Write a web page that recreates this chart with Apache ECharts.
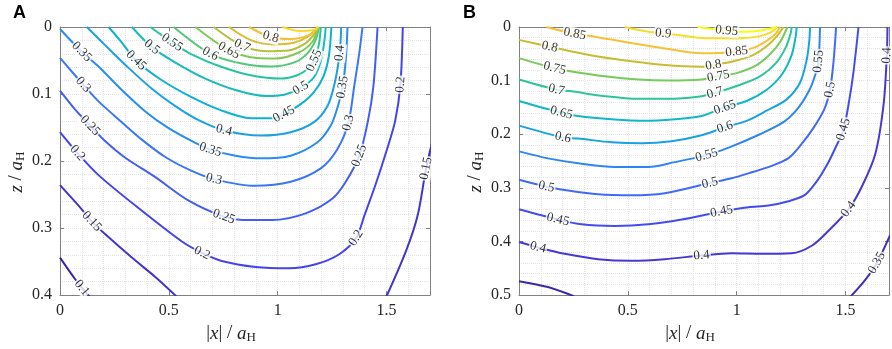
<!DOCTYPE html>
<html>
<head>
<meta charset="utf-8">
<script src="https://cdn.jsdelivr.net/npm/echarts@6/dist/echarts.min.js"></script>
<style>
  html, body { margin: 0; padding: 0; background: #fff; }
  #chart { width: 892px; height: 349px; }
</style>
</head>
<body>
<div id="chart"></div>
<script>
// axis ranges / ticks
const xMax = 1.7;
const zMaxA = 0.4;
const zMaxB = 0.5;
const xStep = 0.5;
const zStep = 0.1;

// ---- panel A contour paths, points are [|x|/aH, z/aH] ----
const A010 = [[0, 0.344], [0.069, 0.376], [0.10, 0.389], [0.135, 0.402]];
const A015L = [[0, 0.236], [0.1, 0.272], [0.146, 0.29], [0.207, 0.309], [0.33, 0.344], [0.438, 0.373], [0.535, 0.402]];
const A015R = [[1.71, 0.172], [1.682, 0.211], [1.644, 0.28], [1.59, 0.334], [1.50, 0.402]];
const A020 = [[0, 0.157], [0.08, 0.188], [0.177, 0.221], [0.36, 0.27], [0.56, 0.32], [0.653, 0.337], [0.743, 0.349], [0.899, 0.358],
  [1.052, 0.36], [1.175, 0.354], [1.283, 0.339], [1.36, 0.315], [1.40, 0.28], [1.45, 0.235], [1.50, 0.185], [1.54, 0.14], [1.564, 0.086], [1.575, 0]];
const A025 = [[0, 0.095], [0.069, 0.123], [0.138, 0.147], [0.207, 0.17], [0.30, 0.195], [0.438, 0.224], [0.591, 0.259], [0.753, 0.283],
  [0.837, 0.288], [0.975, 0.288], [1.129, 0.278], [1.252, 0.256], [1.313, 0.231], [1.375, 0.192], [1.415, 0.14], [1.44, 0.088], [1.459, 0]];
const A030 = [[0, 0.046], [0.061, 0.069], [0.107, 0.086], [0.177, 0.111], [0.284, 0.142], [0.376, 0.168], [0.484, 0.194], [0.60, 0.214],
  [0.707, 0.227], [0.891, 0.237], [1.06, 0.231], [1.198, 0.211], [1.275, 0.182], [1.325, 0.143], [1.352, 0.088], [1.375, 0.039], [1.39, 0]];
const A035 = [[0, 0.003], [0.1, 0.037], [0.177, 0.059], [0.284, 0.094], [0.392, 0.126], [0.499, 0.151], [0.622, 0.173], [0.691, 0.183],
  [0.806, 0.192], [0.922, 0.196], [1.06, 0.192], [1.183, 0.172], [1.244, 0.147], [1.275, 0.12], [1.298, 0.09], [1.313, 0.049], [1.321, 0]];
const A040 = [[0.123, 0], [0.207, 0.027], [0.315, 0.061], [0.422, 0.092], [0.53, 0.118], [0.637, 0.139], [0.753, 0.154], [0.922, 0.162],
  [1.06, 0.157], [1.167, 0.142], [1.229, 0.118], [1.262, 0.084], [1.285, 0.039], [1.292, 0]];
const A045 = [[0.223, 0], [0.276, 0.02], [0.35, 0.05], [0.461, 0.078], [0.6, 0.104], [0.737, 0.124], [0.876, 0.136], [0.983, 0.136],
  [1.029, 0.13], [1.106, 0.115], [1.167, 0.097], [1.21, 0.074], [1.235, 0.044], [1.247, 0]];
const A050 = [[0.33, 0], [0.422, 0.03], [0.53, 0.053], [0.668, 0.077], [0.806, 0.094], [0.945, 0.103], [1.03, 0.101], [1.106, 0.091],
  [1.167, 0.075], [1.2, 0.049], [1.215, 0.02], [1.221, 0]];
const A055 = [[0.415, 0], [0.515, 0.023], [0.6, 0.04], [0.737, 0.059], [0.876, 0.072], [1.014, 0.077], [1.09, 0.072], [1.14, 0.062],
  [1.168, 0.05], [1.19, 0.025], [1.198, 0]];
const A060 = [[0.522, 0], [0.691, 0.04], [0.83, 0.054], [0.968, 0.059], [1.083, 0.052], [1.143, 0.037], [1.175, 0.019], [1.19, 0]];
const A065 = [[0.622, 0], [0.776, 0.035], [0.876, 0.045], [0.99, 0.047], [1.097, 0.038], [1.16, 0.022], [1.186, 0]];
const A070 = [[0.706, 0], [0.837, 0.028], [0.95, 0.036], [1.05, 0.035], [1.12, 0.026], [1.165, 0.012], [1.185, 0]];
const A075 = [[0.776, 0], [0.88, 0.02], [0.98, 0.026], [1.07, 0.024], [1.14, 0.014], [1.185, 0]];
const A080 = [[0.868, 0], [0.968, 0.015], [1.06, 0.018], [1.152, 0.011], [1.185, 0]];
const A090 = [[1.022, 0], [1.1, 0.006], [1.17, 0.004], [1.186, 0]];

const levelsA = [0.1, 0.15, 0.15, 0.2, 0.25, 0.3, 0.35, 0.4, 0.45, 0.5, 0.55, 0.6, 0.65, 0.7, 0.75, 0.8, 0.9];
const pathsA = [A010, A015L, A015R, A020, A025, A030, A035, A040, A045, A050, A055, A060, A065, A070, A075, A080, A090];
// which point of each path carries the inline level label
const labelAtA = [[2], [2], [1], [1, 5, 11, 16], [2, 7, 13], [2, 8, 13], [1, 7, 14], [6, 12], [2, 8], [1, 7], [1, 8], [1], [1], [1], [], [1], []];

// ---- panel B contour paths ----
const B030 = [[0, 0.474], [0.133, 0.485], [0.252, 0.502]];
const B035 = [[1.705, 0.388], [1.644, 0.44], [1.59, 0.472], [1.525, 0.502]];
const B040 = [[0, 0.401], [0.087, 0.411], [0.21, 0.423], [0.363, 0.433], [0.517, 0.436], [0.67, 0.433], [0.839, 0.426], [0.977, 0.422],
  [1.115, 0.423], [1.253, 0.422], [1.345, 0.408], [1.422, 0.38], [1.514, 0.34], [1.575, 0.298], [1.637, 0.237], [1.675, 0.145], [1.69, 0.053], [1.693, 0]];
const B045 = [[0, 0.34], [0.179, 0.359], [0.287, 0.368], [0.44, 0.371], [0.594, 0.368], [0.747, 0.359], [0.931, 0.344], [1.054, 0.336],
  [1.146, 0.333], [1.238, 0.325], [1.314, 0.313], [1.368, 0.288], [1.414, 0.258], [1.452, 0.227], [1.491, 0.191], [1.518, 0.135], [1.537, 0.083], [1.56, 0]];
const B050 = [[0, 0.285], [0.126, 0.298], [0.21, 0.304], [0.363, 0.312], [0.517, 0.314], [0.67, 0.31], [0.877, 0.291], [0.977, 0.282],
  [1.054, 0.273], [1.161, 0.259], [1.24, 0.244], [1.295, 0.22], [1.35, 0.19], [1.403, 0.153], [1.429, 0.117], [1.445, 0.065], [1.457, 0]];
const B055 = [[0, 0.232], [0.133, 0.245], [0.287, 0.255], [0.44, 0.261], [0.594, 0.261], [0.716, 0.252], [0.862, 0.239], [0.969, 0.224],
  [1.107, 0.2], [1.22, 0.176], [1.285, 0.15], [1.334, 0.118], [1.362, 0.088], [1.376, 0.064], [1.383, 0]];
const B060 = [[0, 0.184], [0.202, 0.206], [0.271, 0.208], [0.425, 0.215], [0.563, 0.217], [0.701, 0.213], [0.839, 0.202], [0.946, 0.187],
  [1.046, 0.175], [1.138, 0.156], [1.23, 0.135], [1.291, 0.104], [1.322, 0.061], [1.334, 0.025], [1.337, 0]];
const B065 = [[0, 0.138], [0.195, 0.16], [0.271, 0.166], [0.425, 0.172], [0.578, 0.175], [0.716, 0.172], [0.839, 0.166], [0.946, 0.15],
  [1.046, 0.138], [1.138, 0.117], [1.207, 0.089], [1.253, 0.052], [1.271, 0.018], [1.276, 0]];
const B070 = [[0, 0.098], [0.172, 0.117], [0.241, 0.12], [0.394, 0.129], [0.548, 0.134], [0.686, 0.134], [0.839, 0.129], [0.9, 0.123],
  [1.0, 0.11], [1.107, 0.092], [1.181, 0.067], [1.227, 0.037], [1.248, 0.012], [1.253, 0]];
const B075 = [[0, 0.058], [0.164, 0.077], [0.241, 0.083], [0.394, 0.092], [0.548, 0.098], [0.686, 0.1], [0.839, 0.098], [0.916, 0.092],
  [1.0, 0.086], [1.092, 0.071], [1.158, 0.049], [1.204, 0.025], [1.233, 0]];
const B080 = [[0, 0.024], [0.141, 0.037], [0.21, 0.043], [0.363, 0.055], [0.517, 0.064], [0.67, 0.071], [0.839, 0.074], [0.893, 0.071],
  [0.985, 0.064], [1.077, 0.052], [1.143, 0.034], [1.189, 0.015], [1.215, 0]];
const B085 = [[0.126, 0], [0.256, 0.013], [0.348, 0.018], [0.486, 0.028], [0.67, 0.04], [0.839, 0.049], [1.0, 0.046], [1.077, 0.039],
  [1.138, 0.026], [1.181, 0.012], [1.199, 0]];
const B090 = [[0.486, 0], [0.594, 0.009], [0.663, 0.012], [0.732, 0.015], [0.854, 0.021], [1.015, 0.021], [1.107, 0.017], [1.161, 0.009], [1.187, 0]];
const B095 = [[0.821, 0], [0.874, 0.003], [0.954, 0.007], [1.031, 0.009], [1.12, 0.006], [1.184, 0]];

const levelsB = [0.3, 0.35, 0.4, 0.45, 0.5, 0.55, 0.6, 0.65, 0.7, 0.75, 0.8, 0.85, 0.9, 0.95];
const pathsB = [B030, B035, B040, B045, B050, B055, B060, B065, B070, B075, B080, B085, B090, B095];
const labelAtB = [[], [1], [1, 6, 12, 16], [1, 6, 14], [1, 6, 14], [6, 13], [1, 7], [1, 7], [1, 7], [1, 7], [1, 7], [1, 6], [2], [2]];

// parula-like colormap
const parula = [[62, 38, 168], [71, 63, 231], [64, 110, 250], [35, 150, 236], [10, 180, 208], [40, 196, 160],
  [120, 203, 90], [205, 188, 45], [252, 192, 58], [247, 222, 40], [249, 251, 20]];
function parulaAt(t) {
  t = Math.max(0, Math.min(1, t)) * (parula.length - 1);
  const i = Math.min(Math.floor(t), parula.length - 2), f = t - i;
  const c = parula[i].map((v, k) => Math.round(v + (parula[i + 1][k] - v) * f));
  return 'rgb(' + c.join(',') + ')';
}
const colorA = L => parulaAt((L - 0.1) / 0.9);
const colorB = L => parulaAt(Math.pow((L - 0.3) / 0.65, 1.4));

const serif = 'Liberation Serif';
const axisGray = '#808080';

function axesFor(gi, zMax) {
  const base = {
    gridIndex: gi, type: 'value',
    axisLine: {show: true, onZero: false, lineStyle: {color: axisGray, width: 1}},
    axisTick: {show: true, inside: true, length: 4, lineStyle: {color: axisGray}},
    axisLabel: {show: false}, splitLine: {show: false}
  };
  const fine = {
    gridIndex: gi, type: 'value', axisLine: {show: false}, axisTick: {show: false}, axisLabel: {show: false},
    splitLine: {show: true, lineStyle: {color: '#e4e4e4', type: 'dotted', width: 1}}
  };
  const nameRich = {
    i: {fontFamily: serif, fontStyle: 'italic', fontSize: 19, color: '#262626'},
    s: {fontFamily: serif, fontSize: 13, color: '#262626', padding: [8, 0, 0, 0]}
  };
  const xs = [
    Object.assign({}, base, {
      position: 'bottom', min: 0, max: xMax, interval: xStep,
      axisLabel: {show: true, fontFamily: serif, fontSize: 16, color: '#262626', margin: 8, showMaxLabel: false},
      splitLine: {show: true, lineStyle: {color: '#dcdcdc', type: 'dotted', width: 1}},
      name: '|{i|x}| / {i|a}{s|H}', nameLocation: 'middle', nameGap: 27,
      nameTextStyle: {fontFamily: serif, fontSize: 19, color: '#262626', padding: [0, 28, 0, 0], rich: nameRich}
    }),
    Object.assign({}, base, {position: 'top', min: 0, max: xMax, interval: xStep}),
    Object.assign({}, fine, {position: 'bottom', min: 0, max: xMax, interval: 0.1})
  ];
  const ys = [
    Object.assign({}, base, {
      position: 'left', inverse: true, min: 0, max: zMax, interval: zStep,
      axisLabel: {show: true, fontFamily: serif, fontSize: 16, color: '#262626', margin: 8},
      splitLine: {show: true, lineStyle: {color: '#dcdcdc', type: 'dotted', width: 1}},
      name: '{i|z} / {i|a}{s|H}', nameLocation: 'middle', nameRotate: 90, nameGap: 33,
      nameTextStyle: {fontFamily: serif, fontSize: 19, color: '#262626', padding: [0, 22, 0, 0], rich: nameRich}
    }),
    Object.assign({}, base, {position: 'right', inverse: true, min: 0, max: zMax, interval: zStep}),
    Object.assign({}, fine, {position: 'left', inverse: true, min: 0, max: zMax, interval: 0.02})
  ];
  return {xs, ys};
}

const axA = axesFor(0, zMaxA);
const axB = axesFor(1, zMaxB);

function lineSeries(paths, levels, gi, colorOf) {
  return paths.map((p, k) => ({
    type: 'line', xAxisIndex: gi * 3, yAxisIndex: gi * 3, data: p,
    showSymbol: false, symbol: 'none', smooth: 0.3, silent: true, z: 3,
    lineStyle: {color: colorOf(levels[k]), width: 2}
  }));
}

const chart = echarts.init(document.getElementById('chart'));
const option = {
  animation: false,
  backgroundColor: '#fff',
  grid: [
    {left: 60, top: 27, width: 370, height: 271},
    {left: 519, top: 27, width: 370, height: 271}
  ],
  xAxis: axA.xs.concat(axB.xs),
  yAxis: axA.ys.concat(axB.ys),
  graphic: [
    {type: 'text', left: 13, top: 4, style: {text: 'A', font: 'bold 18px "Liberation Sans"', fill: '#000'}},
    {type: 'text', left: 463, top: 4, style: {text: 'B', font: 'bold 18px "Liberation Sans"', fill: '#000'}}
  ],
  series: lineSeries(pathsA, levelsA, 0, colorA).concat(lineSeries(pathsB, levelsB, 1, colorB))
};
chart.setOption(option);

// inline contour labels, rotated along the path through the chart's own scales
function labelSeries(paths, levels, labelAt, gi) {
  const finder = {xAxisIndex: gi * 3, yAxisIndex: gi * 3};
  const data = [];
  paths.forEach((p, k) => {
    labelAt[k].forEach(i => {
      const a = chart.convertToPixel(finder, p[Math.max(i - 1, 0)]);
      const b = chart.convertToPixel(finder, p[Math.min(i + 1, p.length - 1)]);
      let ang = -Math.atan2(b[1] - a[1], b[0] - a[0]) * 180 / Math.PI;
      if (ang > 90) ang -= 180;
      if (ang < -90) ang += 180;
      data.push({value: p[i], name: String(levels[k]), label: {rotate: ang}});
    });
  });
  return {
    type: 'scatter', xAxisIndex: gi * 3, yAxisIndex: gi * 3, data: data,
    symbolSize: 1, itemStyle: {color: 'rgba(0,0,0,0)'}, silent: true, z: 6,
    label: {
      show: true, position: 'inside', formatter: '{b}', fontFamily: serif, fontSize: 13, color: '#000',
      backgroundColor: '#fff', padding: [0, 1]
    }
  };
}

option.series.push(labelSeries(pathsA, levelsA, labelAtA, 0));
option.series.push(labelSeries(pathsB, levelsB, labelAtB, 1));
chart.setOption(option);
</script>
</body>
</html>
